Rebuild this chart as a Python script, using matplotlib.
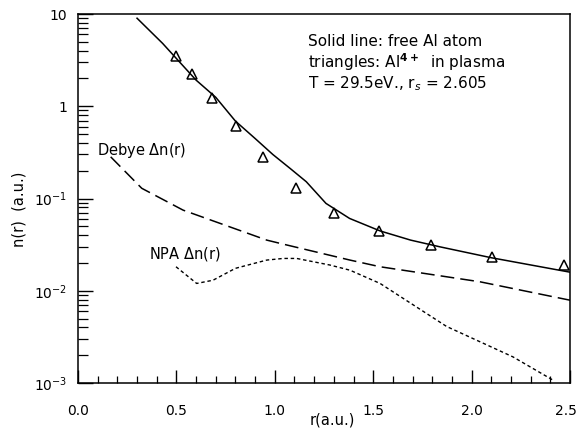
"""Electron density n(r) of Al: free atom vs Al4+ in plasma, with Debye and NPA delta-n."""

import matplotlib
matplotlib.use("Agg")
import matplotlib.pyplot as plt
import matplotlib.transforms as mtransforms
from matplotlib.ticker import FixedLocator, MultipleLocator, LogLocator, NullFormatter

# solid line: free Al atom
free_r = [0.30, 0.43, 0.60, 0.70, 0.80, 0.90, 0.99, 1.08, 1.16, 1.26, 1.38, 1.535,
          1.69, 1.84, 2.10, 2.50]
free_n = [9.0, 4.8, 1.92, 1.25, 0.69, 0.447, 0.30, 0.21, 0.152, 0.0885, 0.0608, 0.0445,
          0.0354, 0.0299, 0.0228, 0.0159]

# triangles: Al4+ in plasma
ion_r = [0.496, 0.581, 0.683, 0.803, 0.942, 1.108, 1.302, 1.53, 1.794, 2.104, 2.47]
ion_n = [3.5, 2.22, 1.24, 0.615, 0.283, 0.1306, 0.070, 0.0447, 0.0313, 0.0231, 0.019]

# dashed: Debye delta n(r)
debye_r = [0.166, 0.324, 0.534, 0.959, 1.043, 1.382, 1.535, 2.043, 2.50]
debye_n = [0.283, 0.129, 0.0748, 0.0354, 0.032, 0.0215, 0.0182, 0.0125, 0.0079]

# dotted: NPA delta n(r)
npa_r = [0.498, 0.603, 0.686, 0.80, 0.959, 1.043, 1.111, 1.28, 1.382, 1.535, 1.873, 2.21, 2.415]
npa_n = [0.0182, 0.012, 0.013, 0.0175, 0.0215, 0.0224, 0.0224, 0.019, 0.0167, 0.012, 0.0041,
         0.00192, 0.00107]

y_ticks = [1e-3, 1e-2, 1e-1, 1, 10]
y_labels = ["$10^{-3}$", "$10^{-2}$", "$10^{-1}$", "1", "10"]
x_ticks = [0.0, 0.5, 1.0, 1.5, 2.0, 2.5]
x_labels = ["0.0", "0.5", "1.0", "1.5", "2.0", "2.5"]

plt.rcParams["font.family"] = ["DejaVu Sans"]
plt.rcParams["mathtext.fontset"] = "dejavusans"

fig = plt.figure(figsize=(5.79, 4.34), dpi=100)
ax = fig.add_axes([78 / 579, 1 - 383 / 434, 492 / 579, 369 / 434])

ax.plot(free_r, free_n, color="black", lw=1.1)
ax.plot(ion_r, ion_n, ls="none", marker="^", ms=7, mfc="none", mec="black", mew=1.1)
ax.plot(debye_r, debye_n, color="black", lw=1.1, dashes=(9, 4))
ax.plot(npa_r, npa_n, color="black", lw=1.0, dashes=(2.5, 2))

ax.set_yscale("log")
ax.set_xlim(0.0, 2.5)
ax.set_ylim(1e-3, 10)

ax.yaxis.set_major_locator(FixedLocator(y_ticks))
ax.set_yticklabels(y_labels)
ax.yaxis.set_minor_locator(LogLocator(base=10, subs=range(2, 10)))
ax.yaxis.set_minor_formatter(NullFormatter())
ax.xaxis.set_major_locator(FixedLocator(x_ticks))
ax.set_xticklabels(x_labels)
ax.xaxis.set_minor_locator(MultipleLocator(0.1))

ax.tick_params(axis="both", which="both", direction="in", top=False, right=False,
               colors="black", labelsize=10)
ax.tick_params(axis="y", which="major", length=11, width=1.0, pad=8)
ax.tick_params(axis="y", which="minor", length=7, width=0.9)
ax.tick_params(axis="x", which="major", length=9.5, width=1.0, pad=15)
ax.tick_params(axis="x", which="minor", length=5, width=0.9)
for s in ax.spines.values():
    s.set_linewidth(1.1)

# last x label sits at the figure edge, nudge it inwards a little
last = ax.get_xticklabels()[-1]
last.set_transform(last.get_transform()
                   + mtransforms.ScaledTranslation(-3 / 72, 0, fig.dpi_scale_trans))

ax.set_xlabel("r(a.u.)", fontsize=10.5)
ax.xaxis.set_label_coords(0.516, -0.081)
ax.set_ylabel("n(r)  (a.u.)", fontsize=10.5)
ax.yaxis.set_label_coords(-0.104, 0.4715)

fs = 11
ax.annotate("Solid line: free Al atom", xy=(308, 434 - 41), xycoords="figure pixels",
            fontsize=fs, va="center")
ax.annotate("triangles: Al$^{\\mathbf{4+}}$  in plasma", xy=(308, 434 - 62),
            xycoords="figure pixels", fontsize=fs, va="center")
ax.annotate("T = 29.5eV., r$_s$ = 2.605", xy=(308, 434 - 84), xycoords="figure pixels",
            fontsize=fs, va="center")
ax.annotate("Debye $\\Delta$n(r)", xy=(97, 434 - 150), xycoords="figure pixels",
            fontsize=10.5, va="center")
ax.annotate("NPA $\\Delta$n(r)", xy=(149, 434 - 254), xycoords="figure pixels",
            fontsize=10.5, va="center")

fig.savefig("out.png", dpi=100)
